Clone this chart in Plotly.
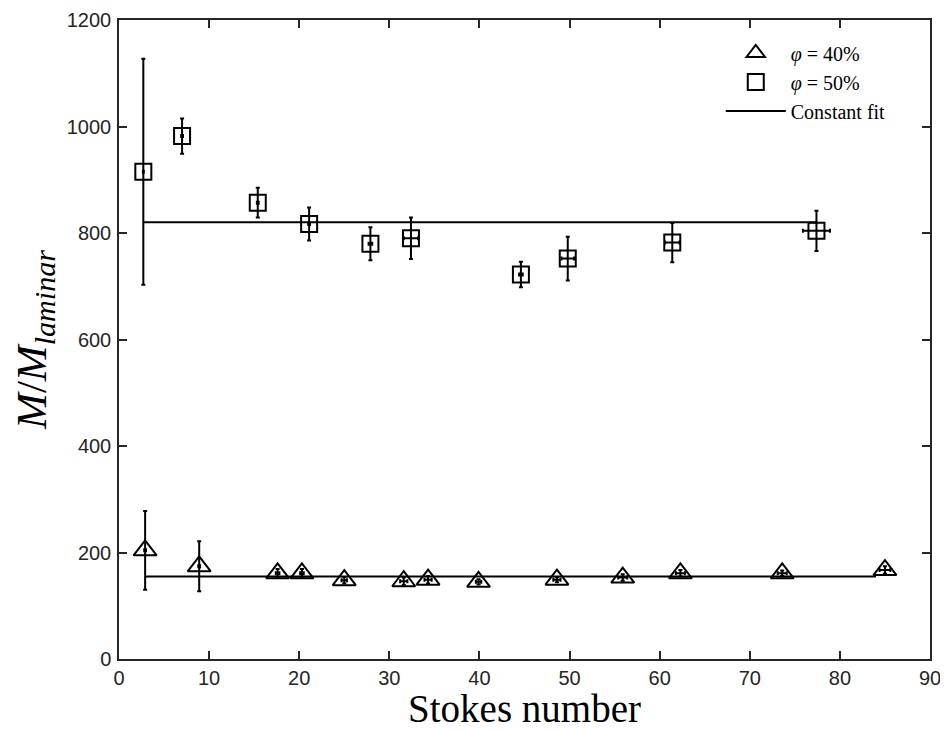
import plotly.graph_objects as go

# phi = 40 % (triangles)
tri_x = [2.9, 8.9, 17.6, 20.3, 25.0, 31.6, 34.3, 39.9, 48.6, 55.9, 62.3, 73.6, 85.0]
tri_y = [204, 174, 161, 161, 148, 146, 149, 145, 149, 153, 161, 161, 167]
tri_yerr = [74, 47, 8, 8, 6, 7, 7, 5, 5, 6, 6, 5, 7]
tri_xerr = [0.1, 0.1, 0.2, 0.2, 0.3, 0.4, 0.4, 0.3, 0.4, 0.5, 0.5, 0.5, 0.6]

# phi = 50 % (squares)
sq_x = [2.7, 7.0, 15.4, 21.1, 27.9, 32.4, 44.6, 49.8, 61.4, 77.4]
sq_y = [915, 982, 857, 817, 780, 790, 722, 752, 782, 804]
sq_yerr = [212, 33, 28, 31, 31, 39, 24, 41, 37, 38]
sq_xerr = [0.05, 0.1, 0.1, 0.1, 0.2, 0.8, 0.2, 0.7, 0.8, 1.5]

# constant fits (value and extent of the fitted line)
fit_40 = 155
fit_40_x = [2.9, 84.0]
fit_50 = 820
fit_50_x = [2.7, 77.4]

x_ticks = [0, 10, 20, 30, 40, 50, 60, 70, 80, 90]
y_ticks = [0, 200, 400, 600, 800, 1000, 1200]

AX = "#262626"
SERIF = "Liberation Serif, DejaVu Serif, serif"
SANS = "Liberation Sans, Arial, Helvetica, sans-serif"

fig = go.Figure()

err_style = dict(type="data", color="black", thickness=2, width=2, visible=True)

fig.add_trace(go.Scatter(
    x=tri_x, y=tri_y, mode="markers", name="<i>φ</i> = 40%",
    marker=dict(symbol="triangle-up-open", size=20, color="black",
                line=dict(color="black", width=2)),
    error_y=dict(array=tri_yerr, **err_style),
    error_x=dict(array=tri_xerr, **err_style),
))
fig.add_trace(go.Scatter(
    x=sq_x, y=sq_y, mode="markers", name="<i>φ</i> = 50%",
    marker=dict(symbol="square-open", size=16, color="black",
                line=dict(color="black", width=2)),
    error_y=dict(array=sq_yerr, **err_style),
    error_x=dict(array=sq_xerr, **err_style),
))
fig.add_trace(go.Scatter(
    x=fit_40_x, y=[fit_40] * len(fit_40_x), mode="lines",
    name="Constant fit", legendgroup="fit", showlegend=True,
    line=dict(color="black", width=2),
))
fig.add_trace(go.Scatter(
    x=fit_50_x, y=[fit_50] * len(fit_50_x), mode="lines",
    name="Constant fit", legendgroup="fit", showlegend=False,
    line=dict(color="black", width=2),
))

axis_common = dict(
    showline=True, linecolor=AX, linewidth=1.5, mirror="ticks",
    ticks="inside", ticklen=8, tickwidth=1.5, tickcolor=AX,
    showgrid=False, zeroline=False, automargin=False,
    tickfont=dict(family=SANS, size=20, color=AX),
)

# the page body adds an 8px margin, so the figure is 8px smaller each way
fig.update_layout(
    width=940, height=722,
    margin=dict(l=111, r=18, t=12, b=71),
    paper_bgcolor="white", plot_bgcolor="white",
    xaxis=dict(range=[0, 90], tickvals=x_ticks,
               title=dict(text="Stokes number", font=dict(family=SERIF, size=39, color="black"),
                          standoff=2),
               **axis_common),
    yaxis=dict(range=[0, 1200], tickvals=y_ticks, ticklabelstandoff=2,
               title=dict(text="<i>M</i>/<i>M</i><sub><i>laminar</i></sub>",
                          font=dict(family=SERIF, size=43, color="black"), standoff=16),
               **axis_common),
    legend=dict(x=0.742, y=0.979, xanchor="left", yanchor="top",
                bgcolor="rgba(0,0,0,0)", borderwidth=0,
                font=dict(family=SERIF, size=20, color="black"),
                itemwidth=60, tracegroupgap=0),
    showlegend=True,
)

fig.write_html("out.html")
